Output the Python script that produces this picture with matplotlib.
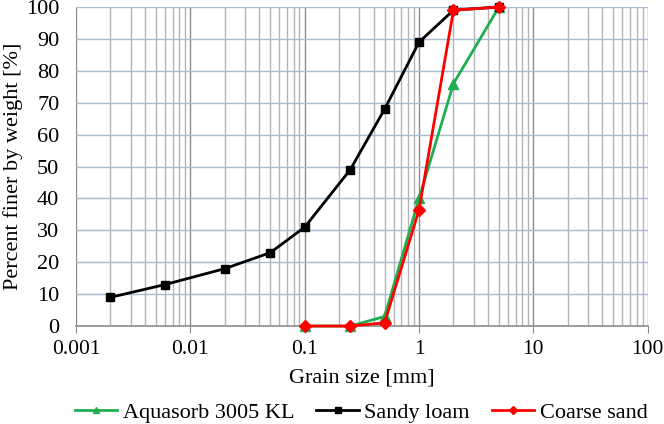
import numpy as np
import matplotlib
matplotlib.use('Agg')
from matplotlib import pyplot as plt
from matplotlib.ticker import LogLocator, NullFormatter

plt.rcParams['font.family'] = ['Liberation Serif', 'DejaVu Serif']

# grain size [mm] and percent finer by weight
aqua_x = [0.1, 0.25, 0.5, 1, 2, 5]
aqua_y = [0, 0, 3, 40, 76, 100]
loam_x = [0.002, 0.006, 0.02, 0.05, 0.1, 0.25, 0.5, 1, 2, 5]
loam_y = [9, 13, 18, 23, 31, 49, 68, 89, 99, 100]
sand_x = [0.1, 0.25, 0.5, 1, 2, 5]
sand_y = [0, 0, 1, 36.5, 99, 100]

fig = plt.figure(figsize=(6.64, 4.24), dpi=100)
ax = fig.add_axes([0.1145, 0.231, 0.861, 0.7525])

ax.set_xscale('log')
ax.set_xlim(0.001, 100)
ax.set_ylim(0, 100)

ax.plot(aqua_x, aqua_y, color='#1fae4f', lw=2, marker='^', ms=7,
        label='Aquasorb 3005 KL', zorder=3, clip_on=False)
ax.plot(loam_x, loam_y, color='black', lw=2, marker='s', ms=5.5,
        label='Sandy loam', zorder=4, clip_on=False)
ax.plot(sand_x, sand_y, color='#ff0000', lw=2, marker='D', ms=6,
        label='Coarse sand', zorder=5, clip_on=False)

ax.xaxis.set_minor_locator(LogLocator(base=10, subs=np.arange(2, 10), numticks=20))
ax.xaxis.set_minor_formatter(NullFormatter())
ax.set_xticks([0.001, 0.01, 0.1, 1, 10, 100])
ax.set_xticklabels(['0.001', '0.01', '0.1', '1', '10', '100'])
ax.set_yticks(range(0, 101, 10))

ax.grid(which='major', axis='x', color='#8c8c8c', lw=1.0)
ax.grid(which='minor', axis='x', color='#b4b4b4', lw=1.0)
ax.grid(which='major', axis='y', color='#a8bad4', lw=1.0)
ax.set_axisbelow(True)

for s in ['top', 'right', 'left']:
    ax.spines[s].set_visible(False)
ax.spines['bottom'].set_color('#8c8c8c')
ax.spines['bottom'].set_linewidth(1.2)

ax.tick_params(axis='x', which='major', length=5, color='#8c8c8c', labelsize=15.5, pad=5)
ax.tick_params(axis='x', which='minor', length=0)
ax.tick_params(axis='y', length=0, labelsize=16, pad=12)

ax.set_xlabel('Grain size [mm]', fontsize=16, labelpad=7)
ax.set_ylabel('Percent finer by weight [%]', fontsize=16, labelpad=2)

fig.legend(*ax.get_legend_handles_labels(), loc='center',
           bbox_to_anchor=(0.544, 0.026), bbox_transform=fig.transFigure,
           ncol=3, frameon=False, fontsize=16, handlelength=1.9,
           handletextpad=0.25, columnspacing=1.0, borderpad=0,
           markerscale=0.7)

fig.savefig('out.png', dpi=100)
